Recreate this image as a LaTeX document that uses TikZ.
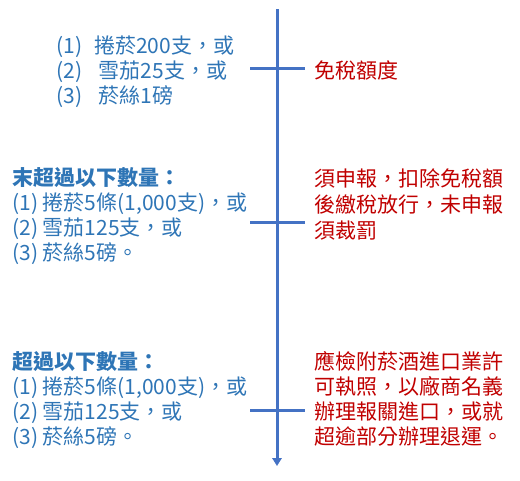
\documentclass[tikz,border=0pt]{standalone}
\usepackage{fontspec}
\setmainfont{Noto Sans CJK TC}
\usetikzlibrary{arrows.meta}
\definecolor{axisblue}{HTML}{4472C4}
\definecolor{txtblue}{HTML}{2E75B6}
\definecolor{txtred}{HTML}{C00000}
\tikzset{
  ln/.style={anchor=base west, inner sep=0pt, font=\fontsize{15.75pt}{18.75pt}\selectfont},
  bl/.style={ln, text=txtblue},
  rd/.style={ln, text=txtred},
  axisline/.style={draw=axisblue, line width=2.25pt},
}
\begin{document}
\begin{tikzpicture}[x=0.75pt,y=-0.75pt]
\useasboundingbox (0,0) rectangle (520,480);
% axis
\coordinate (top) at (277,9);
\coordinate (bot) at (277,466);
\draw[axisline, -{Triangle[width=7pt,length=6pt]}] (top) -- (bot);
\coordinate (t1l) at (250,68);  \coordinate (t1r) at (305,68);
\coordinate (t2l) at (250,222); \coordinate (t2r) at (305,222);
\coordinate (t3l) at (250,410); \coordinate (t3r) at (305,410);
\draw[axisline] (t1l) -- (t1r);
\draw[axisline] (t2l) -- (t2r);
\draw[axisline] (t3l) -- (t3r);
% block 1
\node[bl] (a1) at (56,53) {(1)\hspace{9pt}捲菸200支，或};
\node[bl] (a2) at (56,78) {(2)\hspace{12.5pt}雪茄25支，或};
\node[bl] (a3) at (56,103) {(3)\hspace{12.5pt}菸絲1磅};
\node[rd] (r1) at (314,78) {免稅額度};
% block 2
\node[bl] (b0) at (12,185.5) {\bfseries 末超過以下數量：};
\node[bl] (b1) at (12,210.5) {(1) 捲菸5條(1,000支)，或};
\node[bl] (b2) at (12,235.5) {(2) 雪茄125支，或};
\node[bl] (b3) at (12,260.5) {(3) 菸絲5磅。};
\node[rd] (r21) at (314,186.5) {須申報，扣除免稅額};
\node[rd] (r22) at (314,212.5) {後繳稅放行，未申報};
\node[rd] (r23) at (314,238) {須裁罰};
% block 3
\node[bl] (c0) at (12,369) {\bfseries 超過以下數量：};
\node[bl] (c1) at (12,394) {(1) 捲菸5條(1,000支)，或};
\node[bl] (c2) at (12,419) {(2) 雪茄125支，或};
\node[bl] (c3) at (12,444) {(3) 菸絲5磅。};
\node[rd] (r31) at (314,369) {應檢附菸酒進口業許};
\node[rd] (r32) at (314,394) {可執照，以廠商名義};
\node[rd] (r33) at (314,419) {辦理報關進口，或就};
\node[rd] (r34) at (314,444) {超逾部分辦理退運。};
\end{tikzpicture}
\end{document}
